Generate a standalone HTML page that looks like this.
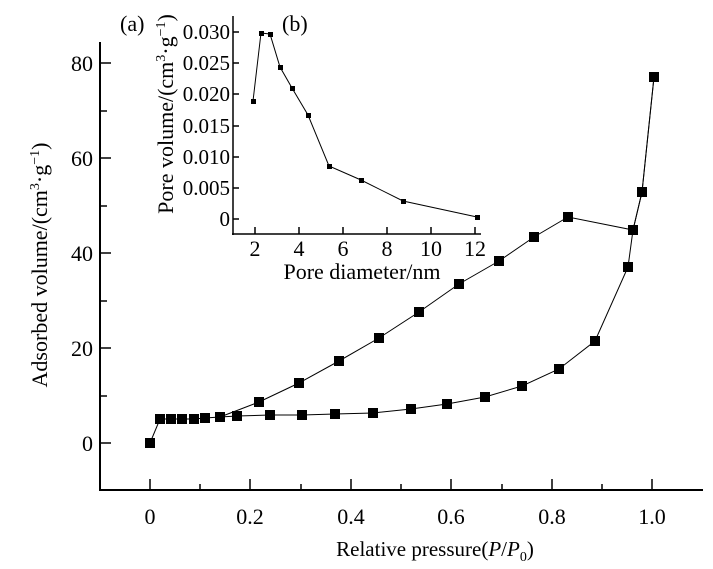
<!DOCTYPE html>
<html><head><meta charset="utf-8"><style>
html,body{margin:0;padding:0;background:#fff;}
svg{display:block;font-family:"Liberation Serif",serif;}
</style></head><body>
<svg width="713" height="569" viewBox="0 0 713 569" xmlns="http://www.w3.org/2000/svg">
<rect width="713" height="569" fill="#fff"/>
<g stroke="#000" stroke-width="2" fill="none">
<line x1="100" y1="42" x2="100" y2="491"/>
<line x1="99" y1="490" x2="703" y2="490"/>
</g>
<g stroke="#000" stroke-width="1.5">
<line x1="100" y1="443" x2="111" y2="443"/>
<line x1="100" y1="348" x2="111" y2="348"/>
<line x1="100" y1="253" x2="111" y2="253"/>
<line x1="100" y1="158" x2="111" y2="158"/>
<line x1="100" y1="63" x2="111" y2="63"/>
<line x1="100" y1="396" x2="107" y2="396"/>
<line x1="100" y1="301" x2="107" y2="301"/>
<line x1="100" y1="206" x2="107" y2="206"/>
<line x1="100" y1="111" x2="107" y2="111"/>
<line x1="150" y1="490" x2="150" y2="479"/>
<line x1="250" y1="490" x2="250" y2="479"/>
<line x1="351" y1="490" x2="351" y2="479"/>
<line x1="451" y1="490" x2="451" y2="479"/>
<line x1="552" y1="490" x2="552" y2="479"/>
<line x1="652" y1="490" x2="652" y2="479"/>
<line x1="200" y1="490" x2="200" y2="484"/>
<line x1="301" y1="490" x2="301" y2="484"/>
<line x1="401" y1="490" x2="401" y2="484"/>
<line x1="502" y1="490" x2="502" y2="484"/>
<line x1="602" y1="490" x2="602" y2="484"/>
</g>
<g font-size="22" text-anchor="end">
<text x="93" y="451">0</text>
<text x="93" y="356">20</text>
<text x="93" y="261">40</text>
<text x="93" y="166">60</text>
<text x="93" y="71">80</text>
</g>
<g font-size="22" text-anchor="middle">
<text x="150" y="524">0</text>
<text x="250" y="524">0.2</text>
<text x="351" y="524">0.4</text>
<text x="451" y="524">0.6</text>
<text x="552" y="524">0.8</text>
<text x="652" y="524">1.0</text>
</g>
<text x="435" y="556" font-size="21" text-anchor="middle">Relative pressure(<tspan font-style="italic">P</tspan>/<tspan font-style="italic">P</tspan><tspan font-size="14" dy="5">0</tspan><tspan dy="-5">)</tspan></text>
<text transform="translate(47,265) rotate(-90)" font-size="22" text-anchor="middle">Adsorbed volume/(cm<tspan font-size="14" dy="-8">3</tspan><tspan dy="8">·g</tspan><tspan font-size="14" dy="-8">−1</tspan><tspan dy="8">)</tspan></text>

<g stroke="#000" stroke-width="1" fill="none">
<polyline points="150,443 160,419 171,419 182,419 194,419 205,418 220,417 237,416 270,415 302,415 335,414 373,413 411,409 447,404 485,397 522,386 559,369 595,341 628,267 633,230 642,192 654,77"/>
<polyline points="220,417 259,402 299,383 339,361 379,338 419,312 459,284 499,261 534,237 568,217 633,230 642,192 654,77"/>
</g>
<g fill="#000">
<rect x="145" y="438" width="10" height="10"/>
<rect x="155" y="414" width="10" height="10"/>
<rect x="166" y="414" width="10" height="10"/>
<rect x="177" y="414" width="10" height="10"/>
<rect x="189" y="414" width="10" height="10"/>
<rect x="200" y="413" width="10" height="10"/>
<rect x="215" y="412" width="10" height="10"/>
<rect x="232" y="411" width="10" height="10"/>
<rect x="265" y="410" width="10" height="10"/>
<rect x="297" y="410" width="10" height="10"/>
<rect x="330" y="409" width="10" height="10"/>
<rect x="368" y="408" width="10" height="10"/>
<rect x="406" y="404" width="10" height="10"/>
<rect x="442" y="399" width="10" height="10"/>
<rect x="480" y="392" width="10" height="10"/>
<rect x="517" y="381" width="10" height="10"/>
<rect x="554" y="364" width="10" height="10"/>
<rect x="590" y="336" width="10" height="10"/>
<rect x="623" y="262" width="10" height="10"/>
<rect x="628" y="225" width="10" height="10"/>
<rect x="637" y="187" width="10" height="10"/>
<rect x="649" y="72" width="10" height="10"/>
<rect x="254" y="397" width="10" height="10"/>
<rect x="294" y="378" width="10" height="10"/>
<rect x="334" y="356" width="10" height="10"/>
<rect x="374" y="333" width="10" height="10"/>
<rect x="414" y="307" width="10" height="10"/>
<rect x="454" y="279" width="10" height="10"/>
<rect x="494" y="256" width="10" height="10"/>
<rect x="529" y="232" width="10" height="10"/>
<rect x="563" y="212" width="10" height="10"/>
</g>

<g stroke="#000" stroke-width="1.5" fill="none">
<line x1="233" y1="16" x2="233" y2="235"/>
<line x1="232" y1="234" x2="481" y2="234"/>
<line x1="233" y1="219" x2="239" y2="219"/>
<line x1="233" y1="188" x2="239" y2="188"/>
<line x1="233" y1="157" x2="239" y2="157"/>
<line x1="233" y1="126" x2="239" y2="126"/>
<line x1="233" y1="94" x2="239" y2="94"/>
<line x1="233" y1="63" x2="239" y2="63"/>
<line x1="233" y1="32" x2="239" y2="32"/>
<line x1="255" y1="234" x2="255" y2="227"/>
<line x1="299" y1="234" x2="299" y2="227"/>
<line x1="343" y1="234" x2="343" y2="227"/>
<line x1="387" y1="234" x2="387" y2="227"/>
<line x1="431" y1="234" x2="431" y2="227"/>
<line x1="475" y1="234" x2="475" y2="227"/>
</g>
<g font-size="21" text-anchor="end">
<text x="230" y="226">0</text>
<text x="230" y="195">0.005</text>
<text x="230" y="164">0.010</text>
<text x="230" y="133">0.015</text>
<text x="230" y="101">0.020</text>
<text x="230" y="70">0.025</text>
<text x="230" y="39">0.030</text>
</g>
<g font-size="22" text-anchor="middle">
<text x="255" y="256">2</text>
<text x="299" y="256">4</text>
<text x="343" y="256">6</text>
<text x="387" y="256">8</text>
<text x="431" y="256">10</text>
<text x="475" y="256">12</text>
</g>
<text x="362" y="279" font-size="22" text-anchor="middle">Pore diameter/nm</text>
<text transform="translate(173,114) rotate(-90)" font-size="22" text-anchor="middle">Pore volume/(cm<tspan font-size="14" dy="-8">3</tspan><tspan dy="8">·g</tspan><tspan font-size="14" dy="-8">−1</tspan><tspan dy="8">)</tspan></text>
<text x="120" y="31" font-size="22">(a)</text>
<text x="282" y="31" font-size="22">(b)</text>
<polyline fill="none" stroke="#000" stroke-width="1" points="253,101 261,33 270,34 280,67 292,88 308,115 329,166 361,180 403,201 477,217"/>
<g fill="#000">
<rect x="251" y="99" width="5" height="5"/>
<rect x="259" y="31" width="5" height="5"/>
<rect x="268" y="32" width="5" height="5"/>
<rect x="278" y="65" width="5" height="5"/>
<rect x="290" y="86" width="5" height="5"/>
<rect x="306" y="113" width="5" height="5"/>
<rect x="327" y="164" width="5" height="5"/>
<rect x="359" y="178" width="5" height="5"/>
<rect x="401" y="199" width="5" height="5"/>
<rect x="475" y="215" width="5" height="5"/>
</g>
</svg>
</body></html>
